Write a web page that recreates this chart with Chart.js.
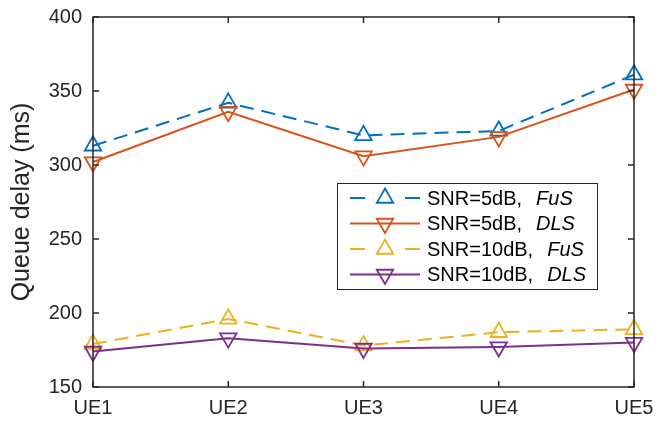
<!DOCTYPE html>
<html>
<head>
<meta charset="utf-8">
<script src="https://cdn.jsdelivr.net/npm/chart.js@4/dist/chart.umd.min.js"></script>
<style>
  html, body { margin: 0; padding: 0; background: #fff; }
  #c { display: block; }
</style>
</head>
<body>
<canvas id="c" width="671" height="421"></canvas>
<script>
// data
const categories = ["UE1", "UE2", "UE3", "UE4", "UE5"];
const fus5 = [313, 342, 320, 323, 361];
const dls5 = [302, 336, 306, 319, 351];
const fus10 = [179, 196, 178, 187, 189];
const dls10 = [174, 183, 176, 177, 180];
const yTicks = [150, 200, 250, 300, 350, 400];
const snrLabels = ["SNR=5dB,", "SNR=5dB,", "SNR=10dB,", "SNR=10dB,"];
const schemeLabels = ["FuS", "DLS", "FuS", "DLS"];

const FONT = "'Liberation Sans', Arial, sans-serif";
const AXIS = "#262626";
const DASH = [14, 8];

function series(data, color, dashed, down, i) {
  return {
    data,
    borderColor: color,
    backgroundColor: "transparent",
    borderWidth: 2,
    borderDash: dashed ? DASH : [],
    tension: 0,
    fill: false,
    clip: false,
    order: 4 - i,
    pointStyle: "triangle",
    rotation: down ? 180 : 0,
    pointRadius: 9.5,
    pointBorderWidth: 1.8,
    pointBorderColor: color,
    pointBackgroundColor: "transparent",
  };
}

/* caixa do eixo + ticks para dentro */
const boxPlugin = {
  id: "box",
  afterDatasetsDraw(chart) {
    const { ctx, chartArea: a, scales } = chart;
    const t = 6;
    ctx.save();
    ctx.strokeStyle = AXIS;
    ctx.lineWidth = 1.5;
    ctx.setLineDash([]);
    ctx.strokeRect(a.left, a.top, a.right - a.left, a.bottom - a.top);
    ctx.beginPath();
    yTicks.forEach((v) => {
      const y = scales.y.getPixelForValue(v);
      ctx.moveTo(a.left, y); ctx.lineTo(a.left + t, y);
      ctx.moveTo(a.right, y); ctx.lineTo(a.right - t, y);
    });
    categories.forEach((c, i) => {
      const x = scales.x.getPixelForValue(i);
      ctx.moveTo(x, a.bottom); ctx.lineTo(x, a.bottom - t);
      ctx.moveTo(x, a.top); ctx.lineTo(x, a.top + t);
    });
    ctx.stroke();
    ctx.restore();
  },
};

/* legenda dentro do gráfico, estilo MATLAB */
const legendPlugin = {
  id: "innerLegend",
  afterDraw(chart) {
    const { ctx } = chart;
    const box = { x: 337, y: 183, w: 260, h: 106 };
    ctx.save();
    ctx.fillStyle = "#fff";
    ctx.fillRect(box.x, box.y, box.w, box.h);
    ctx.strokeStyle = AXIS;
    ctx.lineWidth = 1;
    ctx.strokeRect(box.x + 0.5, box.y + 0.5, box.w, box.h);

    chart.data.datasets.forEach((ds, i) => {
      const y = box.y + 15 + i * 25.5;
      const x0 = 350, x1 = 420, xm = 385;
      ctx.strokeStyle = ds.borderColor;
      ctx.lineWidth = 2;
      ctx.setLineDash(ds.borderDash.length ? [15, 40] : []);
      ctx.beginPath();
      ctx.moveTo(x0, y); ctx.lineTo(x1, y);
      ctx.stroke();
      ctx.setLineDash([]);
      ctx.lineWidth = ds.pointBorderWidth;
      ctx.fillStyle = "rgba(0,0,0,0)";
      Chart.helpers.drawPoint(ctx, {
        pointStyle: "triangle",
        rotation: ds.rotation,
        radius: ds.pointRadius,
        borderWidth: ds.pointBorderWidth,
      }, xm, y);

      ctx.fillStyle = "#000";
      ctx.textBaseline = "middle";
      ctx.textAlign = "left";
      ctx.font = `20px ${FONT}`;
      ctx.fillText(snrLabels[i], 427, y + 1);
      const w = ctx.measureText(snrLabels[i]).width;
      ctx.font = `italic 20px ${FONT}`;
      ctx.fillText(schemeLabels[i], 427 + w + 14, y + 1);
    });
    ctx.restore();
  },
};

new Chart(document.getElementById("c"), {
  type: "line",
  data: {
    labels: categories,
    datasets: [
      series(fus5, "#0072BD", true, false, 0),
      series(dls5, "#D95319", false, true, 1),
      series(fus10, "#EDB120", true, false, 2),
      series(dls10, "#7E2F8E", false, true, 3),
    ],
  },
  options: {
    responsive: false,
    devicePixelRatio: 1,
    animation: false,
    layout: { padding: { top: 17, right: 37, left: 0, bottom: 0 } },
    plugins: { legend: { display: false }, tooltip: { enabled: false } },
    scales: {
      x: {
        type: "category",
        offset: false,
        grid: { display: false, drawTicks: false },
        border: { display: false },
        ticks: { color: AXIS, padding: 9, font: { family: FONT, size: 20 } },
        afterFit: (s) => { s.height = 34; s.paddingLeft = 0; s.paddingRight = 0; },
      },
      y: {
        min: 150,
        max: 400,
        grid: { display: false, drawTicks: false },
        border: { display: false },
        afterBuildTicks: (s) => { s.ticks = yTicks.map((v) => ({ value: v })); },
        ticks: { color: AXIS, padding: 11, font: { family: FONT, size: 20 } },
        title: {
          display: true,
          text: "Queue delay (ms)",
          color: AXIS,
          padding: { top: 7, bottom: 0 },
          font: { family: FONT, size: 25 },
        },
        afterFit: (s) => { s.width = 93; s.paddingTop = 0; s.paddingBottom = 0; },
      },
    },
  },
  plugins: [boxPlugin, legendPlugin],
});
</script>
</body>
</html>
